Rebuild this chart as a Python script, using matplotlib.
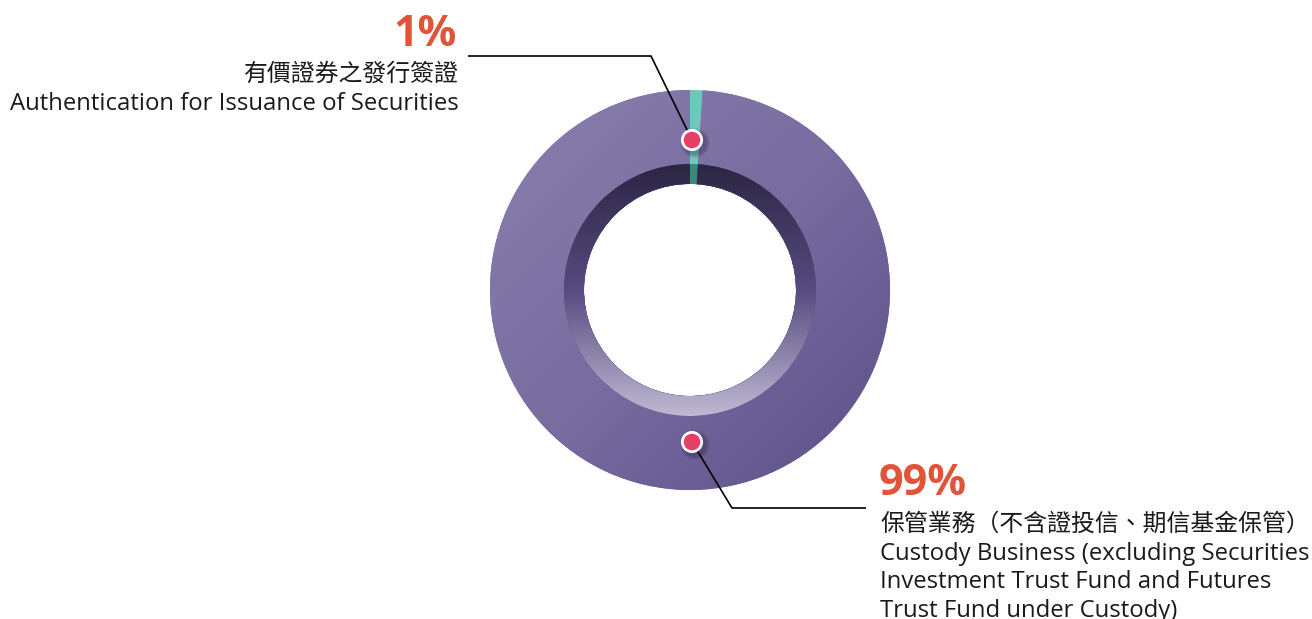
import numpy as np
import matplotlib
matplotlib.use('Agg')
import matplotlib.pyplot as plt
from matplotlib.colors import LinearSegmentedColormap
from matplotlib.patches import Circle

# ---- data ----
categories_zh = ['有價證券之發行簽證', '保管業務（不含證投信、期信基金保管）']
categories_en = ['Authentication for Issuance of Securities',
                 'Custody Business (excluding Securities\nInvestment Trust Fund and Futures\nTrust Fund under Custody)']
shares = [1, 99]
pct_labels = ['1%', '99%']

W, H = 1312, 619
fig = plt.figure(figsize=(W / 100, H / 100), dpi=100)
ax = fig.add_axes([0, 0, 1, 1])

cx, cy = 690, H - 290
R_out, R_in, R_sh = 200, 106, 126

wedges, _ = ax.pie(shares, colors=['#6cc8ba', '#7468a0'], startangle=90, counterclock=False,
                   radius=R_out, center=(cx, cy),
                   wedgeprops=dict(width=R_out - R_in, linewidth=0, zorder=1))

n = 400
g = np.linspace(0, 1, n)
X, Y = np.meshgrid(g, g)
t = (X + (1 - Y)) / 2
cmap_main = LinearSegmentedColormap.from_list('main', ['#8a80ac', '#786ca0', '#5c4f88'])
im = ax.imshow(t, cmap=cmap_main, extent=(cx - R_out, cx + R_out, cy - R_out, cy + R_out),
               origin='lower', zorder=1.5, interpolation='bilinear')
im.set_clip_path(wedges[1])

# inner shadow ring
wedges2, _ = ax.pie(shares, colors=['#3a8877', '#4a4070'], startangle=90, counterclock=False,
                    radius=R_sh, center=(cx, cy),
                    wedgeprops=dict(width=R_sh - R_in, linewidth=0, zorder=2))
tv = 1 - Y
cmap_sh = LinearSegmentedColormap.from_list('sh', [(0, '#2c2644'), (0.5, '#574b80'), (1, '#bfb9d3')])
im2 = ax.imshow(tv, cmap=cmap_sh, extent=(cx - R_sh, cx + R_sh, cy - R_sh, cy + R_sh),
                origin='lower', zorder=2.5, interpolation='bilinear')
im2.set_clip_path(wedges2[1])

# leader lines and dots
dots = [(692, H - 140), (692, H - 442)]
lines = [
    ([468, 651, dots[0][0]], [H - 56, H - 56, dots[0][1]]),
    ([866, 732, dots[1][0]], [H - 508, H - 508, dots[1][1]]),
]
for xs, ys in lines:
    ax.plot(xs, ys, color='black', lw=1.2, zorder=4, solid_capstyle='butt')

for (dx, dy) in dots:
    for r, a in [(15, 0.05), (14, 0.07), (13, 0.09), (12, 0.11)]:
        ax.add_patch(Circle((dx + 3, dy - 3), r, facecolor='#1a1530', alpha=a, lw=0, zorder=5))
    ax.add_patch(Circle((dx, dy), 11, facecolor='white', lw=0, zorder=6))
    ax.add_patch(Circle((dx, dy), 8.3, facecolor='#e63e66', lw=0, zorder=7))

ORANGE = '#e0553a'
TXT = '#1a1a1a'
en_font = ['Open Sans', 'Noto Sans CJK TC', 'DejaVu Sans']
zh_font = ['Noto Sans CJK TC', 'DejaVu Sans']
FS = 17.2

# top-left label
ax.text(457, H - 46, pct_labels[0], ha='right', va='baseline', fontsize=31, fontweight='bold',
        color=ORANGE, family=en_font)
ax.text(459, H - 81, categories_zh[0], ha='right', va='baseline', fontsize=FS, color=TXT, family=zh_font)
ax.text(459, H - 110, categories_en[0], ha='right', va='baseline', fontsize=FS, color=TXT, family=en_font)

# bottom-right label
ax.text(879, H - 495, pct_labels[1], ha='left', va='baseline', fontsize=31, fontweight='bold',
        color=ORANGE, family=en_font)
ax.text(880, H - 531, categories_zh[1], ha='left', va='baseline', fontsize=FS, color=TXT, family=zh_font)
for i, line in enumerate(categories_en[1].split('\n')):
    ax.text(880, H - 560 - 28.5 * i, line, ha='left', va='baseline', fontsize=FS, color=TXT, family=en_font)

ax.set_xlim(0, W)
ax.set_ylim(0, H)
ax.set_aspect('equal')
ax.axis('off')
fig.savefig('out.png', dpi=100, facecolor='white')
